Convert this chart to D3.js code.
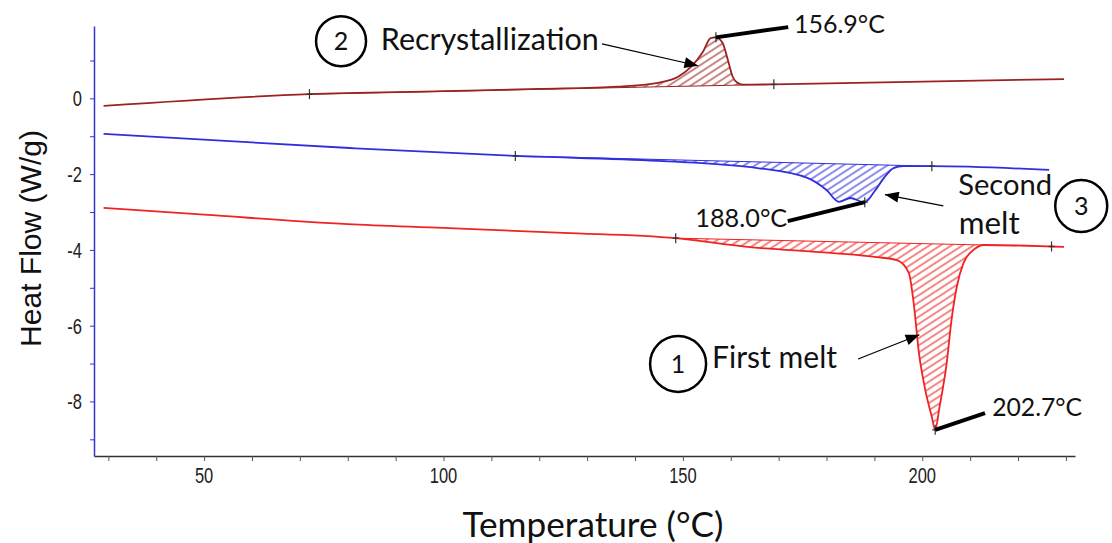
<!DOCTYPE html>
<html>
<head>
<meta charset="utf-8">
<script src="https://cdn.jsdelivr.net/npm/d3@7"></script>
<style>
body { margin: 0; background: #fff; }
.note { font-family: Lato, "Open Sans", sans-serif; fill: #111; }
.tickLabel { font-family: "Liberation Sans", Arial, sans-serif; font-size: 22px; fill: #222; }
</style>
</head>
<body>
<div class="chart"></div>
<script>
// DSC thermogram: first melt, recrystallization, second melt

// temperature (°C) and heat flow (W/g)
var recrystT  = [29, 72, 100, 120, 136.5, 144.8, 149, 151.7, 154.2, 155.8, 156.9, 158.3, 159.4, 160.4, 161.4, 162.5, 169, 229.6];
var recrystHF = [-0.20, 0.11, 0.19, 0.25, 0.31, 0.41, 0.57, 0.83, 1.23, 1.59, 1.61, 1.46, 1.01, 0.57, 0.41, 0.36, 0.37, 0.51];

var secondT  = [29, 80.4, 115, 144.8, 165.6, 176, 180, 182.6, 185, 187.4, 188, 190, 192, 194, 196, 202, 226.5];
var secondHF = [-0.94, -1.31, -1.52, -1.65, -1.84, -2.10, -2.42, -2.73, -2.63, -2.73, -2.74, -2.46, -2.10, -1.84, -1.79, -1.79, -1.89];

var firstT  = [29, 50, 80, 100, 125, 148.5, 163.5, 180.8, 190.5, 194.7, 197.2, 198.2, 199.3, 200.5, 202, 202.7, 203.6, 205.1, 206.1, 207.2, 208.6, 210.7, 212.8, 227, 229.6];
var firstHF = [-2.89, -3.07, -3.32, -3.42, -3.55, -3.69, -3.92, -4.08, -4.19, -4.27, -4.61, -5.40, -6.72, -7.62, -8.41, -8.75, -8.15, -6.99, -5.86, -4.98, -4.35, -4.00, -3.87, -3.91, -3.92];

// integration limits and peak temperatures
var recrystLimits = [72, 169], recrystPeak = 156.9;
var secondLimits = [115, 202], secondPeak = 188.0;
var firstLimits = [148.5, 227], firstPeak = 202.7;

var xTicks = d3.range(30, 231, 10);
var yTicks = d3.range(-9, 2, 1);
var xLabels = [50, 100, 150, 200];
var yLabels = [0, -2, -4, -6, -8];

var svgWidth = 1112;
var svgHeight = 543;
var margin = { top: 26, right: 37, bottom: 87, left: 94 };
var width = svgWidth - margin.left - margin.right;
var height = svgHeight - margin.top - margin.bottom;

var svg = d3.select(".chart")
    .append("svg")
    .attr("width", svgWidth)
    .attr("height", svgHeight);

var defs = svg.append("defs");

var chart = svg.append("g")
    .attr("transform", "translate(" + margin.left + "," + margin.top + ")");

var xScale = d3.scaleLinear().domain([27, 231.9]).range([0, width]);
var yScale = d3.scaleLinear().domain([-9.44, 1.91]).range([height, 0]);

function toRows(ts, hs) {
    return ts.map(function(t, i) { return { t: t, hf: hs[i] }; });
}

var series = [
    { rows: toRows(firstT, firstHF), limits: firstLimits, peak: firstPeak, color: "#f02323", id: "hFirst" },
    { rows: toRows(secondT, secondHF), limits: secondLimits, peak: secondPeak, color: "#2f2fe0", id: "hSecond" },
    { rows: toRows(recrystT, recrystHF), limits: recrystLimits, peak: recrystPeak, color: "#9c2222", id: "hRecryst" }
];

// hatch patterns
series.forEach(function(s) {
    var p = defs.append("pattern")
        .attr("id", s.id)
        .attr("patternUnits", "userSpaceOnUse")
        .attr("width", 7).attr("height", 6)
        .attr("patternTransform", "rotate(-33)");
    p.append("line")
        .attr("x1", 0).attr("y1", 3).attr("x2", 7).attr("y2", 3)
        .attr("stroke", s.color).attr("stroke-width", 1.1);
});

defs.append("marker")
    .attr("id", "arrow")
    .attr("markerUnits", "userSpaceOnUse")
    .attr("viewBox", "0 0 10 8")
    .attr("refX", 10).attr("refY", 4)
    .attr("markerWidth", 15).attr("markerHeight", 11)
    .attr("orient", "auto")
    .append("path")
    .attr("d", "M0,0 L10,4 L0,8 Z")
    .attr("fill", "#000");

function valueAt(rows, t) {
    for (var i = 1; i < rows.length; i++) {
        if (rows[i].t >= t) {
            var a = rows[i - 1], b = rows[i];
            return a.hf + (b.hf - a.hf) * (t - a.t) / (b.t - a.t);
        }
    }
    return rows[rows.length - 1].hf;
}

var line = d3.line()
    .x(function(d) { return xScale(d.t); })
    .y(function(d) { return yScale(d.hf); })
    .curve(d3.curveMonotoneX);

// axes (labels drawn separately below)
var bottomAxis = d3.axisBottom(xScale)
    .tickValues(xTicks)
    .tickFormat("")
    .tickSize(5)
    .tickSizeOuter(0);

var leftAxis = d3.axisLeft(yScale)
    .tickValues(yTicks)
    .tickFormat("")
    .tickSize(4)
    .tickSizeOuter(0);

var gx = chart.append("g")
    .attr("transform", "translate(0," + height + ")")
    .call(bottomAxis);
gx.select(".domain").attr("stroke", "#333").attr("stroke-width", 1.5);
gx.selectAll(".tick line").attr("stroke", "#555");

var gy = chart.append("g")
    .call(leftAxis);
gy.select(".domain").attr("stroke", "#3535c8").attr("stroke-width", 1.5);
gy.selectAll(".tick line").attr("stroke", "#3535c8");

// tick labels look tall and narrow in the reference
var squeeze = 0.75;
chart.selectAll(".xLabel")
    .data(xLabels)
    .enter()
    .append("text")
    .attr("class", "tickLabel")
    .attr("text-anchor", "middle")
    .attr("transform", function(d) {
        return "translate(" + xScale(d) + "," + (height + 27) + ") scale(" + squeeze + ",1)";
    })
    .text(function(d) { return String(d); });

chart.selectAll(".yLabel")
    .data(yLabels)
    .enter()
    .append("text")
    .attr("class", "tickLabel")
    .attr("text-anchor", "end")
    .attr("dy", "0.36em")
    .attr("transform", function(d) {
        return "translate(-12," + yScale(d) + ") scale(" + squeeze + ",1)";
    })
    .text(function(d) { return String(d); });

// hatched peak areas and traces
series.forEach(function(s) {
    var t0 = s.limits[0], t1 = s.limits[1];
    var h0 = valueAt(s.rows, t0), h1 = valueAt(s.rows, t1);
    var base = function(t) { return h0 + (h1 - h0) * (t - t0) / (t1 - t0); };
    var part = s.rows.filter(function(d) { return d.t > t0 && d.t < t1; });
    part = [{ t: t0, hf: h0 }].concat(part, [{ t: t1, hf: h1 }]);

    var area = d3.area()
        .x(function(d) { return xScale(d.t); })
        .y0(function(d) { return yScale(base(d.t)); })
        .y1(function(d) { return yScale(d.hf); })
        .curve(d3.curveMonotoneX);

    chart.append("path")
        .datum(part)
        .attr("d", area)
        .attr("fill", "url(#" + s.id + ")");

    chart.append("line")
        .attr("x1", xScale(t0)).attr("y1", yScale(h0))
        .attr("x2", xScale(t1)).attr("y2", yScale(h1))
        .attr("stroke", s.color).attr("stroke-width", 1);

    chart.append("path")
        .datum(s.rows)
        .attr("d", line)
        .attr("fill", "none")
        .attr("stroke", s.color)
        .attr("stroke-width", 1.8);

    // "+" markers at limits and peak
    [t0, t1, s.peak].forEach(function(t) {
        var cx = xScale(t), cy = yScale(valueAt(s.rows, t));
        chart.append("line")
            .attr("x1", cx).attr("x2", cx).attr("y1", cy - 5).attr("y2", cy + 5)
            .attr("stroke", "#333").attr("stroke-width", 1.2);
        chart.append("line")
            .attr("x1", cx - 3).attr("x2", cx + 3).attr("y1", cy).attr("y2", cy)
            .attr("stroke", "#333").attr("stroke-width", 1.2);
    });
});

// annotations (positioned in data units)
function fit(sel, w) {
    var len = sel.node().getComputedTextLength();
    var fs = parseFloat(sel.attr("font-size"));
    sel.attr("font-size", (fs * w / len).toFixed(2));
    return sel;
}

function note(txt, t, hf, w, anchor) {
    var s = chart.append("text")
        .attr("class", "note")
        .attr("x", xScale(t)).attr("y", yScale(hf))
        .attr("font-size", 28)
        .attr("text-anchor", anchor || "start")
        .text(txt);
    return fit(s, w);
}

function circled(num, t, hf, r) {
    chart.append("circle")
        .attr("cx", xScale(t)).attr("cy", yScale(hf)).attr("r", r)
        .attr("fill", "none").attr("stroke", "#000").attr("stroke-width", 2.5);
    chart.append("text")
        .attr("class", "note")
        .attr("x", xScale(t)).attr("y", yScale(hf))
        .attr("dy", "0.36em")
        .attr("text-anchor", "middle")
        .attr("font-size", 25)
        .text(num);
}

function arrow(ta, ha, tb, hb) {
    chart.append("line")
        .attr("x1", xScale(ta)).attr("y1", yScale(ha))
        .attr("x2", xScale(tb)).attr("y2", yScale(hb))
        .attr("stroke", "#000").attr("stroke-width", 1.2)
        .attr("marker-end", "url(#arrow)");
}

function leader(ta, ha, tb, hb) {
    chart.append("line")
        .attr("x1", xScale(ta)).attr("y1", yScale(ha))
        .attr("x2", xScale(tb)).attr("y2", yScale(hb))
        .attr("stroke", "#000").attr("stroke-width", 4);
}

// recrystallization
circled("2", 78.6, 1.51, 25);
note("Recrystallization", 86.9, 1.27, 218);
arrow(133.1, 1.44, 153.2, 0.86);
leader(recrystPeak, valueAt(series[2].rows, recrystPeak), 172.0, 1.88);
note("156.9°C", 173.2, 1.73, 91);

// second melt
note("188.0°C", 171.8, -3.40, 92, "end");
leader(171.9, -3.24, secondPeak, valueAt(series[1].rows, secondPeak));
note("Second", 207.5, -2.55, 94);
note("melt", 207.6, -3.58, 61);
circled("3", 233.2, -2.84, 26);
arrow(204.4, -2.84, 192.2, -2.54);

// first melt
circled("1", 149.0, -7.01, 28);
note("First melt", 156.1, -7.12, 125);
arrow(186.6, -6.88, 199.4, -6.24);
leader(firstPeak, valueAt(series[0].rows, firstPeak), 213.1, -8.31);
note("202.7°C", 214.6, -8.38, 90);

// axis titles
var yTitle = svg.append("text")
    .attr("transform", "translate(41," + 238.5 + ") rotate(-90)")
    .attr("text-anchor", "middle")
    .attr("font-family", "Liberation Sans, Arial, sans-serif")
    .attr("font-size", 30)
    .attr("fill", "#111")
    .text("Heat Flow (W/g)");
fit(yTitle, 217);

var xTitle = svg.append("text")
    .attr("x", 593)
    .attr("y", 537)
    .attr("class", "note")
    .attr("text-anchor", "middle")
    .attr("font-size", 34)
    .text("Temperature (°C)");
fit(xTitle, 261);
</script>
</body>
</html>
